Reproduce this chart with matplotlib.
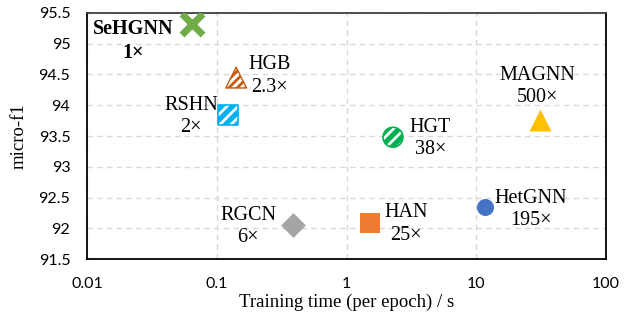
import matplotlib.pyplot as plt
from matplotlib.ticker import FixedLocator, NullLocator

# data
models = ['SeHGNN', 'HGB', 'RSHN', 'HGT', 'MAGNN', 'HetGNN', 'HAN', 'RGCN']
speedup = ['1×', '2.3×', '2×', '38×', '500×', '195×', '25×', '6×']
train_time = [0.064, 0.141, 0.122, 2.28, 31.0, 11.7, 1.52, 0.386]
micro_f1 = [95.32, 94.45, 93.84, 93.48, 93.76, 92.35, 92.09, 92.05]

x_ticks = [0.01, 0.1, 1, 10, 100]
x_labels = ['0.01', '0.1', '1', '10', '100']
y_ticks = [91.5, 92, 92.5, 93, 93.5, 94, 94.5, 95, 95.5]
y_labels = ['91.5', '92', '92.5', '93', '93.5', '94', '94.5', '95', '95.5']

plt.rcParams['hatch.linewidth'] = 2.0

fig = plt.figure(figsize=(6.31, 3.2), dpi=100)
ax = fig.add_axes([0.1379, 0.1906, 0.8225, 0.7688])

ax.set_xscale('log')
ax.set_xlim(0.01, 100)
ax.set_ylim(91.5, 95.5)

# marker styles per model
styles = {
    'SeHGNN': dict(marker='x', s=230, c='#70AD47', linewidths=5),
    'HGB': dict(marker='^', s=225, facecolor='white', edgecolor='#C55A11', hatch='////', linewidths=1),
    'RSHN': dict(marker='s', s=205, facecolor='#00B0F0', edgecolor='white', hatch='///', linewidths=0),
    'HGT': dict(marker='o', s=205, facecolor='#00B050', edgecolor='white', hatch='///', linewidths=0),
    'MAGNN': dict(marker='^', s=250, c='#FFC000', linewidths=0),
    'HetGNN': dict(marker='o', s=150, c='#4472C4', linewidths=0),
    'HAN': dict(marker='s', s=205, c='#ED7D31', linewidths=0),
    'RGCN': dict(marker='D', s=160, c='#A5A5A5', linewidths=0),
}
outline = {'RSHN': ('s', 205, '#00B0F0'), 'HGT': ('o', 205, '#00B050')}

for i, m in enumerate(models):
    ax.scatter(train_time[i], micro_f1[i], zorder=3, **styles[m])
    if m in outline:
        mk, sz, col = outline[m]
        ax.scatter(train_time[i], micro_f1[i], marker=mk, s=sz, facecolor='none',
                   edgecolor=col, linewidths=1.2, zorder=4)

# label placement (offset in points, alignment)
label_pos = {
    'SeHGNN': ((-42, -12), 'center'),
    'HGB': ((9, 1), 'left'),
    'RSHN': ((-7, -1), 'right'),
    'HGT': ((12, -1), 'left'),
    'MAGNN': ((-2, 24), 'center'),
    'HetGNN': ((7, -2), 'left'),
    'HAN': ((10, -1), 'left'),
    'RGCN': ((-12, -1), 'right'),
}
for i, m in enumerate(models):
    off, ha = label_pos[m]
    ax.annotate(m + '\n' + speedup[i], (train_time[i], micro_f1[i]), xytext=off,
                textcoords='offset points', ha=ha, va='center', multialignment='center',
                fontsize=14.5, family='Liberation Serif', linespacing=1.25,
                fontweight='bold' if m == 'SeHGNN' else 'normal', zorder=5)

ax.xaxis.set_major_locator(FixedLocator(x_ticks))
ax.xaxis.set_minor_locator(NullLocator())
ax.set_xticklabels(x_labels)
ax.yaxis.set_major_locator(FixedLocator(y_ticks))
ax.set_yticklabels(y_labels)
ax.tick_params(axis='x', length=0, labelsize=11.5, pad=13)
ax.tick_params(axis='y', length=0, labelsize=11.5, pad=12)
for lab in ax.get_xticklabels() + ax.get_yticklabels():
    lab.set_family('Lato')

ax.grid(True, color='#D9D9D9', linestyle=(0, (4, 3)), linewidth=1)
ax.set_axisbelow(True)
for s in ax.spines.values():
    s.set_color('black')
    s.set_linewidth(1.3)
ax.spines['top'].set_color('#404040')

ax.set_xlabel('Training time (per epoch) / s', family='Liberation Serif', fontsize=13.5, labelpad=2)
ax.set_ylabel('micro-f1', family='Liberation Serif', fontsize=13.5, labelpad=8)

plt.savefig('out.png', dpi=100)
